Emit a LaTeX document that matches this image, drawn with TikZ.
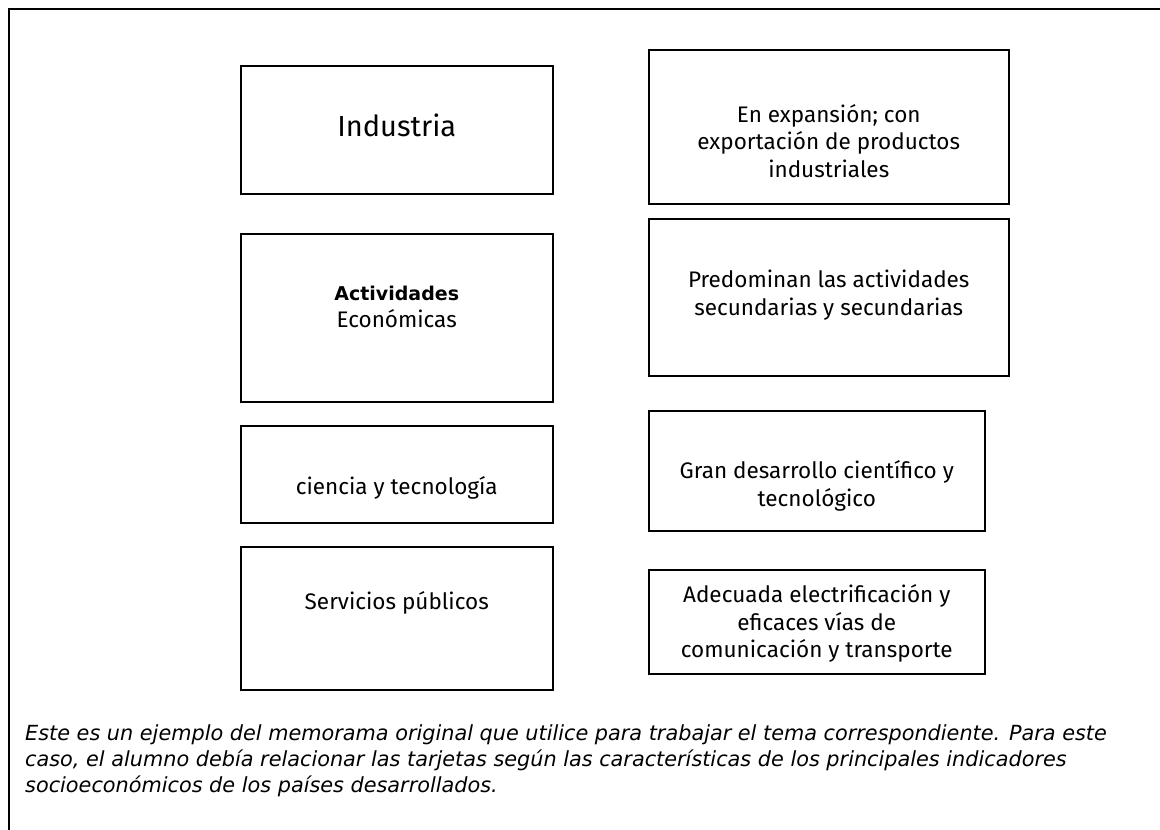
\documentclass[tikz,border=0pt]{standalone}
\usepackage{fontspec}
\setmainfont{DejaVu Sans}
\newfontfamily\cardfont{Fira Sans}

\begin{document}
\begin{tikzpicture}[x=1pt, y=-1pt,
  card/.style={draw, line width=1.5pt, anchor=north west, inner sep=0pt},
  cardtext/.style={align=center, inner sep=0pt, font=\cardfont\fontsize{22.5}{27.5}\selectfont},
  ]
  \useasboundingbox (0,0) rectangle (1160,830);
  \coordinate (frametr) at (1160,9);
  \coordinate (frametl) at (8.5,9);
  \coordinate (framebl) at (8.5,830);
  \draw[line width=2pt] (frametr) -- (frametl) -- (framebl);

  % left column
  \node[card, minimum width=312pt, minimum height=128pt] (industria) at (240,65) {};
  \node[card, minimum width=312pt, minimum height=168pt] (actividades) at (240,233) {};
  \node[card, minimum width=312pt, minimum height=97pt]  (ciencia) at (240,425) {};
  \node[card, minimum width=312pt, minimum height=143pt] (servicios) at (240,546) {};
  % right column
  \node[card, minimum width=360pt, minimum height=154pt] (expansion) at (648,49) {};
  \node[card, minimum width=360pt, minimum height=157pt] (predominan) at (648,218) {};
  \node[card, minimum width=336pt, minimum height=120pt] (desarrollo) at (648,410) {};
  \node[card, minimum width=336pt, minimum height=104pt] (electrif) at (648,569) {};

  \node[cardtext, font=\cardfont\fontsize{29}{34}\selectfont, yshift=4pt] (lindustria) at (industria.center) {Industria};
  \node[cardtext, yshift=11pt] (lactividades) at (actividades.center) {{\rmfamily\bfseries\fontsize{19}{27.5}\selectfont Actividades}\\Económicas};
  \node[cardtext, yshift=-13.5pt] (lciencia) at (ciencia.center) {ciencia y tecnología};
  \node[cardtext, yshift=15pt] (lservicios) at (servicios.center) {Servicios públicos};
  \node[cardtext, yshift=-14pt] (lexpansion) at (expansion.center) {En expansión; con\\exportación de productos\\industriales};
  \node[cardtext, yshift=2pt] (lpredominan) at (predominan.center) {Predominan las actividades\\secundarias y secundarias};
  \node[cardtext, yshift=-15pt] (ldesarrollo) at (desarrollo.center) {Gran desarrollo científico y\\tecnológico};
  \node[cardtext, yshift=-2pt] (lelectrif) at (electrif.center) {Adecuada electrificación y\\eficaces vías de\\comunicación y transporte};

  % note below the cards
  \node[anchor=base west, align=left, inner sep=0pt, font=\itshape\fontsize{20.8}{26}\selectfont] (nota) at (25,792)
    {Este es un ejemplo del memorama original que utilice para trabajar el tema correspondiente. Para este\\caso, el alumno debía relacionar las tarjetas según las características de los principales indicadores\\socioeconómicos de los países desarrollados.};
\end{tikzpicture}
\end{document}
